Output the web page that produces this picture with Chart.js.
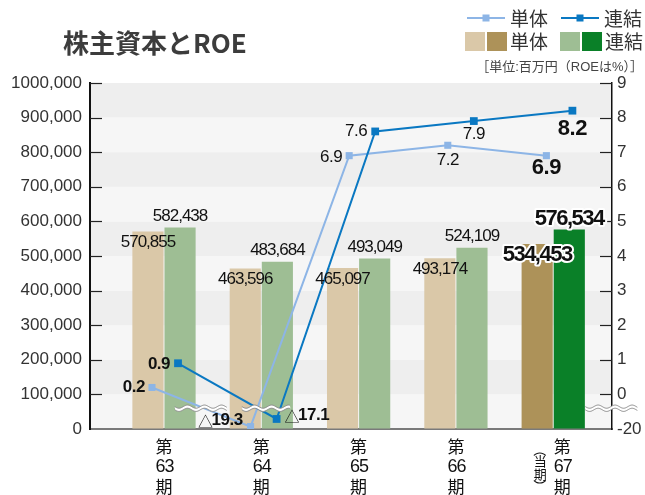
<!DOCTYPE html>
<html>
<head>
<meta charset="utf-8">
<title>株主資本とROE</title>
<script src="https://cdn.jsdelivr.net/npm/chart.js@4.4.1/dist/chart.umd.min.js"></script>
<style>
    html, body { margin: 0; padding: 0; background: #fff; }
    #roeChart { display: block; }
</style>
</head>
<body>
<canvas id="roeChart" width="645" height="495"></canvas>
<script>
// === DATA ===
const periodNums = ['63', '64', '65', '66', '67'];
const currentIndex = 4; // 第67期 (当期)
const equitySingle = [570855, 463596, 465097, 493174, 534453];
const equityConsol = [582438, 483684, 493049, 524109, 576534];
const roeSingle = [0.2, -19.3, 6.9, 7.2, 6.9];
const roeConsol = [0.9, -17.1, 7.6, 7.9, 8.2];
const leftTickLabels = ['0', '100,000', '200,000', '300,000', '400,000', '500,000',
    '600,000', '700,000', '800,000', '900,000', '1000,000'];
const rightTickLabels = ['-20', '0', '1', '2', '3', '4', '5', '6', '7', '8', '9'];

// === STYLE ===
const FONT = '"Liberation Sans", "Noto Sans CJK JP", sans-serif';
const JP_FONT = '"Noto Sans CJK JP", sans-serif';
const COLORS = {
    singleLight: '#dac8a8',
    singleDark: '#ad9259',
    consolLight: '#9ebe94',
    consolDark: '#0a8028',
    lineSingle: '#8db5e6',
    lineConsol: '#0a78c2',
    bandDark: '#eeeeee',
    bandLight: '#f6f6f6',
    text: '#111'
};
const BAR_SHIFT = 0.165;  // 単体 / 連結 bars either side of the period centre
const LINE_SHIFT = 0.132; // same for the two ROE lines

// label placement relative to each ROE point: [align, dx, dy, size, bold]
const singleRoePlace = [['right', -7, 0, 17, true], ['right', -8, -6, 17, true],
    ['right', -7, 2, 17, false], ['center', 0, 15, 17, false], ['center', 0, 12, 22, true]];
const consolRoePlace = [['right', -8, 1, 17, true], ['left', 8, -4, 17, true],
    ['right', -8, 0, 17, false], ['center', 0, 13, 17, false], ['center', 0, 18, 22, true]];

// the ROE axis is broken below 0: -20..-10 is squeezed into one step under 0
function roeToAxis(v) {
    return v >= 0 ? v : -1 + (v + 20) / 10;
}

function barColors(light, dark) {
    return periodNums.map((p, i) => i === currentIndex ? dark : light);
}

// === DRAW HELPERS ===
function drawBreak(ctx, x1, x2, y) {
    const amp = 1.6, gap = 3.2, period = 17;
    const wave = (x, off) => y + off + amp * Math.sin((x - x1) / period * 2 * Math.PI);
    ctx.save();
    ctx.beginPath();
    for (let x = x1; x <= x2; x++) ctx.lineTo(x, wave(x, -gap / 2));
    for (let x = x2; x >= x1; x--) ctx.lineTo(x, wave(x, gap / 2));
    ctx.closePath();
    ctx.fillStyle = '#fff';
    ctx.fill();
    ctx.strokeStyle = '#8c8c8c';
    ctx.lineWidth = 1;
    [-gap / 2, gap / 2].forEach(off => {
        ctx.beginPath();
        for (let x = x1; x <= x2; x++) ctx.lineTo(x, wave(x, off));
        ctx.stroke();
    });
    ctx.restore();
}

function drawValue(ctx, text, x, y, size, bold, halo) {
    ctx.save();
    ctx.font = (bold ? 'bold ' : '') + size + 'px ' + FONT;
    ctx.letterSpacing = bold && size > 20 ? '-1.5px' : '-1px';
    ctx.textAlign = 'center';
    ctx.textBaseline = 'middle';
    if (halo) {
        ctx.strokeStyle = '#fff';
        ctx.lineWidth = 4;
        ctx.lineJoin = 'round';
        ctx.strokeText(text, x, y);
    }
    ctx.fillStyle = COLORS.text;
    ctx.fillText(text, x, y);
    ctx.restore();
}

function drawRoeLabel(ctx, v, x, y, place) {
    const [align, dx, dy, size, bold] = place;
    const num = Math.abs(v).toFixed(1);
    const pre = v < 0 ? '△' : '';
    ctx.save();
    ctx.textBaseline = 'middle';
    ctx.textAlign = 'left';
    ctx.letterSpacing = '-0.5px';
    ctx.font = '15px ' + JP_FONT;
    const preW = pre ? ctx.measureText(pre).width - 1 : 0;
    ctx.font = (bold ? 'bold ' : '') + size + 'px ' + FONT;
    const numW = ctx.measureText(num).width;
    const total = preW + numW;
    let sx = x + dx;
    if (align === 'right') sx -= total;
    if (align === 'center') sx -= total / 2;
    ctx.fillStyle = COLORS.text;
    if (pre) {
        ctx.font = '15px ' + JP_FONT;
        ctx.fillText(pre, sx, y + dy + 1);
    }
    ctx.font = (bold ? 'bold ' : '') + size + 'px ' + FONT;
    ctx.fillText(num, sx + preW, y + dy);
    ctx.restore();
}

// === PLUGINS ===
const bandsPlugin = {
    id: 'bands',
    beforeDraw(chart) {
        const { ctx, chartArea: a, scales: { y } } = chart;
        ctx.save();
        y.ticks.forEach((t, k) => {
            if (k === y.ticks.length - 1) return;
            const bottom = y.getPixelForValue(t.value);
            const top = y.getPixelForValue(y.ticks[k + 1].value);
            ctx.fillStyle = k % 2 ? COLORS.bandDark : COLORS.bandLight;
            ctx.fillRect(a.left, top, a.right - a.left, bottom - top);
        });
        ctx.restore();
    }
};

const overlayPlugin = {
    id: 'overlay',
    afterDatasetsDraw(chart) {
        const { ctx, chartArea: a, scales: { x, y, y2 } } = chart;

        // inner tick marks
        ctx.save();
        ctx.strokeStyle = '#222';
        ctx.lineWidth = 1.2;
        y.ticks.forEach(t => {
            if (t.value <= 0) return;
            const py = Math.round(y.getPixelForValue(t.value)) + 0.5;
            ctx.beginPath(); ctx.moveTo(a.left, py); ctx.lineTo(a.left + 12, py); ctx.stroke();
        });
        y2.ticks.forEach(t => {
            if (t.value < 0) return;
            const py = Math.round(y2.getPixelForValue(t.value)) + 0.5;
            ctx.beginPath(); ctx.moveTo(a.right - 12, py); ctx.lineTo(a.right, py); ctx.stroke();
        });
        ctx.restore();

        // break marks on the ROE lines and the right axis
        const by = y2.getPixelForValue(-0.4);
        [[0.11, 0.65], [0.8, 1.3], [4.33, 4.87]].forEach(([s, e]) => {
            drawBreak(ctx, x.getPixelForValue(s), x.getPixelForValue(e), by);
        });

        // bar value labels
        const single = chart.getDatasetMeta(0).data;
        const consol = chart.getDatasetMeta(1).data;
        equitySingle.forEach((v, i) => {
            const cur = i === currentIndex;
            drawValue(ctx, v.toLocaleString('en-US'), single[i].x, single[i].y + 11, cur ? 22 : 17, cur, cur);
        });
        equityConsol.forEach((v, i) => {
            const cur = i === currentIndex;
            drawValue(ctx, v.toLocaleString('en-US'), consol[i].x, consol[i].y - 11, cur ? 22 : 17, cur, cur);
        });

        // ROE labels
        const ls = chart.getDatasetMeta(2).data;
        const lc = chart.getDatasetMeta(3).data;
        roeSingle.forEach((v, i) => drawRoeLabel(ctx, v, ls[i].x, ls[i].y, singleRoePlace[i]));
        roeConsol.forEach((v, i) => drawRoeLabel(ctx, v, lc[i].x, lc[i].y, consolRoePlace[i]));
    },
    afterDraw(chart) {
        const { ctx, scales: { x } } = chart;
        ctx.save();

        // period labels, written vertically
        ctx.fillStyle = COLORS.text;
        ctx.textAlign = 'center';
        ctx.textBaseline = 'middle';
        periodNums.forEach((p, i) => {
            const px = x.getPixelForValue(i) + (i === currentIndex ? 9 : 0);
            ctx.font = '17px ' + JP_FONT;
            ctx.letterSpacing = '0px';
            ctx.fillText('第', px, 447);
            ctx.fillText('期', px, 487);
            ctx.font = '18px ' + FONT;
            ctx.letterSpacing = '-1px';
            ctx.fillText(p, px + 0.5, 467);
        });
        // (当期) beside the current period
        const cx = x.getPixelForValue(currentIndex) - 13;
        ctx.letterSpacing = '0px';
        ctx.font = '13px ' + JP_FONT;
        ctx.fillText('当', cx, 461);
        ctx.fillText('期', cx, 474);
        [['（', 450], ['）', 486]].forEach(([ch, py]) => {
            ctx.save();
            ctx.translate(cx, py);
            ctx.rotate(Math.PI / 2);
            ctx.fillText(ch, 0, 0);
            ctx.restore();
        });

        // title
        ctx.textAlign = 'left';
        ctx.fillStyle = '#3c3c3c';
        ctx.font = 'bold 26px ' + JP_FONT;
        ctx.fillText('株主資本とROE', 63, 43);

        // legend: lines
        ctx.fillStyle = '#333';
        ctx.font = '19px ' + JP_FONT;
        [[467, COLORS.lineSingle, '単体'], [561, COLORS.lineConsol, '連結']].forEach(([lx, col, txt]) => {
            ctx.strokeStyle = col;
            ctx.lineWidth = 2;
            ctx.beginPath(); ctx.moveTo(lx, 18); ctx.lineTo(lx + 38, 18); ctx.stroke();
            ctx.fillStyle = col;
            ctx.fillRect(lx + 15.5, 14.5, 7, 7);
            ctx.fillStyle = '#333';
            ctx.fillText(txt, lx + 43, 19);
        });
        // legend: bars
        [[465, COLORS.singleLight, COLORS.singleDark, '単体'],
         [560, COLORS.consolLight, COLORS.consolDark, '連結']].forEach(([lx, c1, c2, txt]) => {
            ctx.fillStyle = c1; ctx.fillRect(lx, 32, 20, 19);
            ctx.fillStyle = c2; ctx.fillRect(lx + 22, 32, 20, 19);
            ctx.fillStyle = '#333';
            ctx.fillText(txt, lx + 45, 42);
        });
        // unit note
        ctx.textAlign = 'right';
        ctx.font = '13px ' + FONT;
        ctx.fillStyle = '#444';
        ctx.fillText('［単位:百万円（ROEは%）］', 643, 67);
        ctx.restore();
    }
};

// === CHART ===
document.addEventListener('DOMContentLoaded', function() {
    Chart.defaults.font.family = FONT;
    Chart.defaults.color = '#333';

    new Chart(document.getElementById('roeChart'), {
        type: 'bar',
        data: {
            datasets: [{
                label: '単体',
                data: equitySingle.map((v, i) => ({ x: i - BAR_SHIFT, y: v })),
                backgroundColor: barColors(COLORS.singleLight, COLORS.singleDark),
                grouped: false,
                categoryPercentage: 1,
                barPercentage: 0.97,
                xAxisID: 'x', yAxisID: 'y',
                order: 2
            }, {
                label: '連結',
                data: equityConsol.map((v, i) => ({ x: i + BAR_SHIFT, y: v })),
                backgroundColor: barColors(COLORS.consolLight, COLORS.consolDark),
                grouped: false,
                categoryPercentage: 1,
                barPercentage: 0.97,
                xAxisID: 'x', yAxisID: 'y',
                order: 2
            }, {
                type: 'line',
                label: 'ROE 単体',
                data: roeSingle.map((v, i) => ({ x: i - LINE_SHIFT, y: roeToAxis(v) })),
                borderColor: COLORS.lineSingle,
                backgroundColor: COLORS.lineSingle,
                borderWidth: 2,
                pointStyle: 'rect',
                pointRadius: 5,
                pointBorderWidth: 0,
                xAxisID: 'x2', yAxisID: 'y2',
                order: 1
            }, {
                type: 'line',
                label: 'ROE 連結',
                data: roeConsol.map((v, i) => ({ x: i + LINE_SHIFT, y: roeToAxis(v) })),
                borderColor: COLORS.lineConsol,
                backgroundColor: COLORS.lineConsol,
                borderWidth: 2,
                pointStyle: 'rect',
                pointRadius: 5.5,
                pointBorderWidth: 0,
                xAxisID: 'x2', yAxisID: 'y2',
                order: 0
            }]
        },
        options: {
            responsive: false,
            animation: false,
            events: [],
            layout: { padding: { top: 83, left: 0, right: 0, bottom: 0 }, autoPadding: false },
            plugins: {
                legend: { display: false },
                tooltip: { enabled: false }
            },
            scales: {
                x: {
                    type: 'linear',
                    offset: false,
                    min: -0.7605,
                    max: 4.604,
                    ticks: { display: false, stepSize: 1, includeBounds: false },
                    grid: { display: false },
                    border: { color: '#7a7a7a', width: 2 },
                    afterFit(scale) { scale.height = 66; }
                },
                x2: {
                    type: 'linear',
                    offset: false,
                    display: false,
                    min: -0.7606,
                    max: 4.5335
                },
                y: {
                    position: 'left',
                    min: 0,
                    max: 1000000,
                    ticks: {
                        stepSize: 100000,
                        padding: 8,
                        font: { size: 17 },
                        color: '#333',
                        callback: (v, i) => leftTickLabels[i]
                    },
                    grid: { drawOnChartArea: false, drawTicks: false },
                    border: { color: '#111', width: 2 },
                    afterFit(scale) { scale.width = 90; }
                },
                y2: {
                    position: 'right',
                    min: -1,
                    max: 9,
                    ticks: {
                        stepSize: 1,
                        padding: 5,
                        font: { size: 17 },
                        color: '#333',
                        callback: (v, i) => rightTickLabels[i]
                    },
                    grid: { drawOnChartArea: false, drawTicks: false },
                    border: { color: '#111', width: 1.5 },
                    afterFit(scale) { scale.width = 33; }
                }
            }
        },
        plugins: [bandsPlugin, overlayPlugin]
    });
});
</script>
</body>
</html>
